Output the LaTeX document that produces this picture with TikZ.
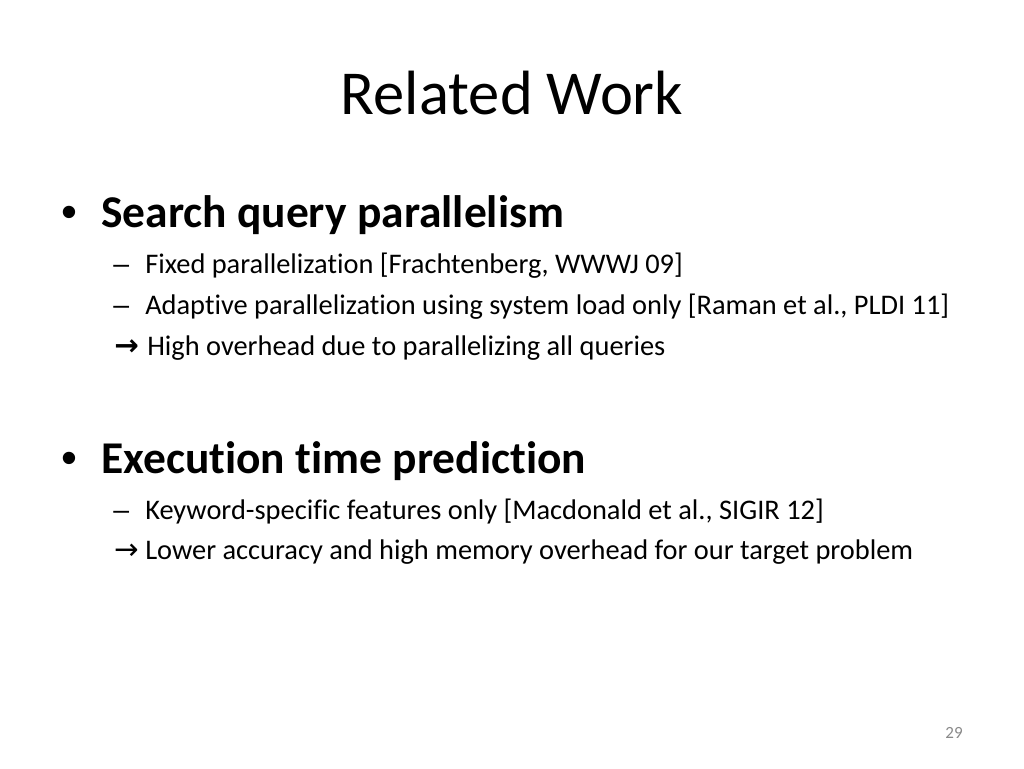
\documentclass[tikz,border=0pt]{standalone}
\usepackage{fontspec}
\usepackage{xcolor}
\setmainfont[Ligatures={NoCommon}]{Carlito}
\newfontfamily\arrowfont{DejaVu Sans}
\newfontfamily\markfont{Liberation Sans}
\definecolor{slideGray}{RGB}{137, 137, 137}

\begin{document}
\begin{tikzpicture}[x=0.75pt, y=-0.75pt]
                    \tikzstyle{titletext} = [inner sep=0pt, anchor=base, font=\fontsize{46.9}{56}\selectfont]
                    \tikzstyle{headtext} = [inner sep=0pt, anchor=base west, font=\fontsize{34.1}{41}\selectfont\bfseries]
                    \tikzstyle{itemtext} = [inner sep=0pt, anchor=base west, font=\fontsize{21.3}{26}\selectfont]
                    \tikzstyle{bullettext} = [inner sep=0pt, anchor=base west, font=\fontsize{34.1}{41}\selectfont\markfont]
                    \tikzstyle{dashtext} = [inner sep=0pt, anchor=base west, font=\fontsize{21.3}{26}\selectfont\markfont]
                    \tikzstyle{arrowtext} = [inner sep=0pt, anchor=base west, font=\fontsize{22}{26}\selectfont\arrowfont]
                    \tikzstyle{thickarrowtext} = [inner sep=0pt, anchor=base west, font=\fontsize{22}{26}\selectfont\arrowfont\bfseries]
                    \useasboundingbox (0,0) rectangle (1024,768);
                    \node[titletext] (title) at (512,114) {Related Work};
                    % first block
                    \node[bullettext] (b1) at (61,227) {•};
                    \node[headtext] (h1) at (101,227) {Search query parallelism};
                    \node[dashtext] (d1) at (113,273) {–};
                    \node[itemtext] (i1) at (145,273) {Fixed parallelization [Frachtenberg, WWWJ 09]};
                    \node[dashtext] (d2) at (113,314) {–};
                    \node[itemtext] (i2) at (145,314) {Adaptive parallelization using system load only [Raman et al., PLDI 11]};
                    \node[thickarrowtext] (a1) at (114,355) {→};
                    \node[itemtext] (i3) at (147,355) {High overhead due to parallelizing all queries};
                    % second block
                    \node[bullettext] (b2) at (61,473) {•};
                    \node[headtext] (h2) at (101,473) {Execution time prediction};
                    \node[dashtext] (d3) at (113,519) {–};
                    \node[itemtext] (i4) at (145,519) {Keyword-specific features only [Macdonald et al., SIGIR 12]};
                    \node[arrowtext] (a2) at (114,559) {→};
                    \node[itemtext] (i5) at (145,559) {Lower accuracy and high memory overhead for our target problem};
                    \node[inner sep=0pt, anchor=base, text=slideGray, font=\fontsize{12.8}{15}\selectfont] (page) at (954,738) {29};
                \end{tikzpicture}
\end{document}
